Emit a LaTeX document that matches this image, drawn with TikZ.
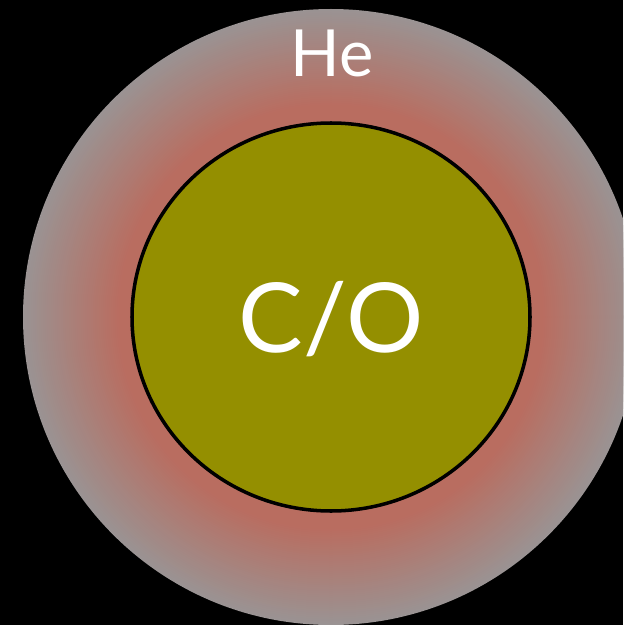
\documentclass[tikz,border=0pt]{standalone}
\usepackage{fontspec}
\setmainfont{Lato}
\definecolor{hegray}{HTML}{9A9393}
\definecolor{hered}{HTML}{B96D60}
\definecolor{cofill}{HTML}{948F00}

\begin{document}
\begin{tikzpicture}[
    x=0.02cm, y=-0.02cm,
    every node/.style={text=white, inner sep=0pt},
    shelltext/.style={font=\fontsize{37}{40}\selectfont},
    coretext/.style={font=\fontsize{55}{60}\selectfont},
  ]

  % Background
  \useasboundingbox (0,0) rectangle (623,625);
  \fill[black] (0,0) rectangle (623,625);
  \clip (0,0) rectangle (623,625);

  % === He shell: grey at the rim, red towards the core ===
  \foreach \i in {0,...,54} {
    \pgfmathsetmacro{\r}{308-\i*2}
    \pgfmathsetmacro{\t}{min(100,\i*2.1)}
    \fill[hered!\t!hegray] (331,317) circle (\r);
  }

  % === C/O core ===
  \draw[black, line width=2pt, fill=cofill] (331,317) ellipse (199 and 194);

  % === Labels ===
  \node[shelltext, anchor=base] (he) at (332,77) {He};
  \node[coretext, anchor=base] (core) at (331,352) {C/O};

\end{tikzpicture}
\end{document}
